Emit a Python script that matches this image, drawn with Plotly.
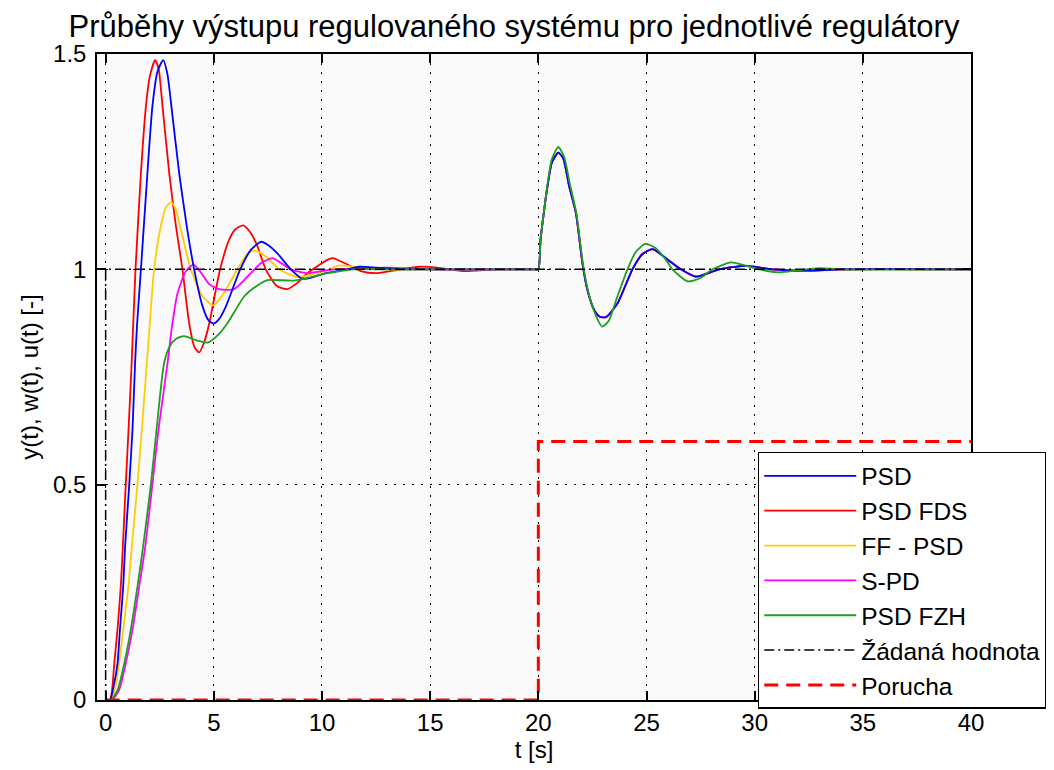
import plotly.graph_objects as go

# ---- data ----
t_psd = [0, 0.2, 0.36, 0.55, 0.66, 0.81, 0.9, 1.09, 1.24, 1.36, 1.45, 1.63, 1.93, 2.16, 2.4, 2.66, 2.85,
         3.04, 3.4, 3.75, 4.09, 4.48, 4.75, 4.98, 5.25, 5.56, 6.22, 6.71, 7.18, 7.55, 7.94, 8.56, 9.1,
         9.6, 10.1, 11.2, 11.7, 12.5, 13.6, 15, 17, 19.8, 20,
         20.1, 20.25, 20.4, 20.62, 20.92, 21.15, 21.43, 21.74, 22.04, 22.27, 22.58, 22.85, 23.13,
         23.66, 24.35, 24.8, 25.28, 25.97, 26.59, 27.29, 28.36, 29.6, 30.8, 32.4, 34, 40]
y_psd = [0, 0, 0.03, 0.085, 0.163, 0.263, 0.356, 0.5, 0.627, 0.782, 0.87, 1.0, 1.223, 1.378, 1.46, 1.486, 1.455,
         1.378, 1.223, 1.1, 1.0, 0.914, 0.882, 0.874, 0.885, 0.914, 1.0, 1.045, 1.064, 1.055, 1.037, 1.0, 0.978,
         0.982, 0.99, 1.0, 1.006, 1.004, 1.0, 1.0, 1.0, 1.0, 1.0,
         1.068, 1.13, 1.185, 1.247, 1.271, 1.258, 1.192, 1.13, 1.014, 0.952, 0.906, 0.89, 0.889,
         0.921, 1.0, 1.035, 1.047, 1.023, 1.0, 0.983, 1.0, 1.008, 1.0, 0.997, 1.0, 1.0]

t_fds = [0, 0.2, 0.3, 0.4, 0.55, 0.7, 0.8, 0.9, 1.05, 1.2, 1.38, 1.63, 1.86, 2.05, 2.29, 2.45, 2.63, 2.94,
         3.25, 3.55, 3.86, 4.1, 4.32, 4.55, 4.79, 5.29, 5.71, 6.0, 6.36, 6.7, 7.02, 7.4, 7.9, 8.38, 8.85,
         9.33, 10.25, 10.49, 11.18, 11.8, 12.49, 13.5, 14.49, 15.5, 16.57, 18, 19.8, 20,
         20.1, 20.25, 20.4, 20.62, 20.92, 21.15, 21.43, 21.74, 22.04, 22.27, 22.58, 22.85, 23.13,
         23.66, 24.35, 24.8, 25.28, 25.97, 26.59, 27.29, 28.36, 29.6, 30.8, 32.4, 34, 40]
y_fds = [0, 0, 0.025, 0.085, 0.165, 0.265, 0.36, 0.47, 0.62, 0.78, 1.0, 1.223, 1.378, 1.45, 1.486, 1.465, 1.378, 1.223,
         1.1, 1.0, 0.875, 0.82, 0.807, 0.83, 0.875, 1.0, 1.069, 1.093, 1.102, 1.085, 1.053, 1.0, 0.962, 0.954, 0.968,
         0.991, 1.022, 1.026, 1.011, 0.996, 0.991, 0.999, 1.006, 1.003, 0.996, 1.0, 1.0, 1.0,
         1.068, 1.13, 1.185, 1.247, 1.271, 1.258, 1.192, 1.13, 1.014, 0.952, 0.906, 0.89, 0.889,
         0.921, 1.0, 1.035, 1.047, 1.023, 1.0, 0.983, 1.0, 1.008, 1.0, 0.997, 1.0, 1.0]

t_ff = [0, 0.25, 0.45, 0.62, 0.81, 1.05, 1.21, 1.47, 1.67, 1.9, 2.05, 2.24, 2.55, 2.8, 3.04, 3.25, 3.44, 3.94,
        4.45, 4.97, 5.4, 6.09, 6.5, 6.87, 7.4, 8.02, 8.87, 9.5, 10.25, 10.8, 11.8, 13, 19.8, 20,
        20.1, 20.25, 20.4, 20.62, 20.92, 21.15, 21.43, 21.74, 22.04, 22.27, 22.58, 22.85, 23.13,
        23.66, 24.35, 24.8, 25.28, 25.97, 26.59, 27.29, 28.36, 29.6, 30.8, 32.4, 34, 40]
y_ff = [0, 0, 0.03, 0.085, 0.163, 0.263, 0.356, 0.5, 0.627, 0.78, 0.88, 1.0, 1.1, 1.145, 1.156, 1.138, 1.1, 1.0,
        0.94, 0.916, 0.94, 1.0, 1.033, 1.044, 1.03, 1.0, 0.982, 0.988, 0.998, 1.009, 1.004, 1.0, 1.0, 1.0,
        1.068, 1.13, 1.185, 1.247, 1.271, 1.258, 1.192, 1.13, 1.014, 0.952, 0.906, 0.89, 0.889,
        0.921, 1.0, 1.035, 1.047, 1.023, 1.0, 0.983, 1.0, 1.008, 1.0, 0.997, 1.0, 1.0]

t_spd = [0, 0.3, 0.62, 0.93, 1.24, 1.55, 1.83, 2.16, 2.44, 2.86, 3.06, 3.32, 3.7, 4.06, 4.4, 4.8, 5.25, 5.94,
         6.71, 7.2, 7.71, 8.1, 8.56, 9.33, 10.25, 11.5, 13.1, 15, 19.8, 20,
         20.1, 20.25, 20.4, 20.62, 20.92, 21.15, 21.43, 21.74, 22.04, 22.27, 22.58, 22.85, 23.13,
         23.66, 24.35, 24.8, 25.28, 25.97, 26.59, 27.29, 28.36, 29.6, 30.8, 32.4, 34, 40]
y_spd = [0, 0, 0.023, 0.085, 0.163, 0.263, 0.356, 0.5, 0.627, 0.782, 0.865, 0.944, 0.995, 1.011, 0.993, 0.965, 0.954, 0.954,
         0.991, 1.015, 1.026, 1.015, 1.0, 0.991, 0.998, 1.002, 1.004, 1.0, 1.0, 1.0,
         1.068, 1.13, 1.185, 1.247, 1.271, 1.258, 1.192, 1.13, 1.014, 0.952, 0.906, 0.89, 0.889,
         0.921, 1.0, 1.035, 1.047, 1.023, 1.0, 0.983, 1.0, 1.008, 1.0, 0.997, 1.0, 1.0]

t_fzh = [0, 0.25, 0.55, 0.86, 1.16, 1.47, 1.73, 2.09, 2.35, 2.7, 2.95, 3.24, 3.63, 4.2, 4.71, 5.2, 5.63, 6.4,
         7.0, 7.48, 8.71, 10.25, 11.5, 13, 19.8, 20,
         20.1, 20.25, 20.4, 20.62, 20.92, 21.2, 21.45, 21.76, 22.06, 22.3, 22.6, 22.95, 23.25, 23.6,
         24.12, 24.5, 24.94, 25.4, 25.9, 26.2, 26.9, 27.5, 28.05, 28.9, 29.5, 30.2, 31.14, 32.0, 32.98, 34, 40]
y_fzh = [0, 0, 0.023, 0.085, 0.163, 0.263, 0.356, 0.5, 0.627, 0.782, 0.82, 0.838, 0.845, 0.835, 0.83, 0.848, 0.875, 0.937,
         0.962, 0.975, 0.974, 0.991, 1.0, 1.0, 1.0, 1.0,
         1.068, 1.13, 1.19, 1.255, 1.284, 1.26, 1.2, 1.13, 1.014, 0.95, 0.9, 0.867, 0.88, 0.929,
         1.0, 1.04, 1.059, 1.05, 1.022, 1.0, 0.972, 0.98, 1.0, 1.016, 1.01, 1.0, 0.993, 0.998, 1.003, 1.0, 1.0]

t_w = [0, 0, 40]
y_w = [0, 1, 1]

t_dist = [0, 20, 20, 40]
y_dist = [0, 0, 0.6, 0.6]

x_ticks = [0, 5, 10, 15, 20, 25, 30, 35, 40]
y_ticks = [0, 0.5, 1, 1.5]

FONT = "Liberation Sans, Arial, sans-serif"

# the page body adds an 8 px offset, so the figure is 8 px smaller
W, H = 1046, 762

fig = go.Figure()

def curve(t, y, name, color, rank, width=1.8):
    fig.add_trace(go.Scatter(
        x=t, y=y, mode="lines", name=name, legendrank=rank,
        line=dict(color=color, width=width, shape="spline", smoothing=0.6)))

# drawing order: lower ones first so PSD and PSD FZH stay visible
curve(t_fds, y_fds, "PSD FDS", "#ff0000", 2)
curve(t_ff, y_ff, "FF - PSD", "#ffcc00", 3)
curve(t_spd, y_spd, "S-PD", "#ff00ff", 4)
curve(t_psd, y_psd, "PSD", "#0000ff", 1)
curve(t_fzh, y_fzh, "PSD FZH", "#1f9f1f", 5)

fig.add_trace(go.Scatter(x=t_w, y=y_w, mode="lines", name="Žádaná hodnota", legendrank=6,
                         line=dict(color="black", width=1.5, dash="10px,4px,2px,4px")))
fig.add_trace(go.Scatter(x=t_dist, y=y_dist, mode="lines", name="Porucha", legendrank=7,
                         line=dict(color="#ff0000", width=3, dash="14px,8px")))

axis_common = dict(
    showline=True, linecolor="black", linewidth=1.5, mirror="ticks",
    ticks="inside", ticklen=9, tickwidth=1.5, tickcolor="black",
    showgrid=True, gridcolor="black", gridwidth=1, griddash="2px,7px",
    zeroline=False, tickfont=dict(family=FONT, size=24, color="black"),
)

fig.update_layout(
    width=W, height=H,
    paper_bgcolor="white", plot_bgcolor="#fafafa",
    margin=dict(l=89, r=83, t=46, b=70, autoexpand=False),
    title=dict(text="Průběhy výstupu regulovaného systému pro jednotlivé regulátory",
               x=0.4837, xanchor="center", xref="container",
               y=1 - 18 / H, yanchor="middle", yref="container",
               font=dict(family=FONT, size=31, color="black")),
    xaxis=dict(range=[-0.4, 40], tickvals=x_ticks,
               title=dict(text="t [s]", font=dict(family=FONT, size=24, color="black"), standoff=2),
               **axis_common),
    yaxis=dict(range=[0, 1.5], tickvals=y_ticks, ticklabelstandoff=4,
               title=dict(text="y(t), w(t), u(t) [-]", font=dict(family=FONT, size=24, color="black"), standoff=8),
               **axis_common),
    legend=dict(x=0.756, y=0.384, xanchor="left", yanchor="top", xref="paper", yref="paper",
                bgcolor="white", bordercolor="black", borderwidth=1.5,
                font=dict(family=FONT, size=24.5, color="black"),
                itemwidth=92, tracegroupgap=0),
    showlegend=True,
)

fig.write_html("out.html")
